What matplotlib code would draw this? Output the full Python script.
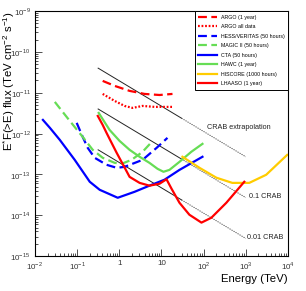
import matplotlib
matplotlib.use("Agg")
import matplotlib.pyplot as plt
import matplotlib.ticker as mticker
import numpy as np

plt.rcParams["font.family"] = ["Liberation Sans", "DejaVu Sans"]
plt.rcParams["mathtext.fontset"] = "custom"
plt.rcParams["mathtext.rm"] = "Liberation Sans"

# sensitivity curves (energy in TeV, E*F(>E) in TeV cm^-2 s^-1)
argo_1yr_e = [0.405, 0.78, 1.76, 3.98, 9.0, 18.3]
argo_1yr_f = [1.95e-11, 1.47e-11, 1.11e-11, 9.35e-12, 8.8e-12, 9.35e-12]

argo_all_e = [0.405, 0.78, 1.34, 2.07, 3.57, 6.9, 18.3]
argo_all_f = [9.35e-12, 6.3e-12, 4.75e-12, 4.25e-12, 4.75e-12, 4.5e-12, 4.5e-12]

hess_e = [0.098, 0.136, 0.179, 0.262, 0.50, 0.87, 1.34, 3.57, 7.7, 13.9]
hess_f = [1.83e-12, 8.3e-13, 4.47e-13, 2.55e-13, 1.72e-13, 1.45e-13, 1.53e-13, 2.27e-13, 4.47e-13, 7.85e-13]

magic_e = [0.0297, 0.067, 0.136, 0.235, 0.405, 0.78, 1.14, 1.96, 3.57, 6.2]
magic_f = [5.96e-12, 2.05e-12, 8.3e-13, 4.0e-13, 2.55e-13, 1.92e-13, 1.82e-13, 2.27e-13, 3.57e-13, 6.6e-13]

cta_e = [0.0155, 0.0227, 0.039, 0.088, 0.20, 0.344, 0.92, 2.31, 5.2, 11.8, 26.8, 94]
cta_f = [2.16e-12, 1.38e-12, 7.0e-13, 2.27e-13, 6.6e-14, 4.2e-14, 2.68e-14, 3.75e-14, 5.3e-14, 7.4e-14, 1.29e-13, 2.7e-13]

hawc_e = [0.326, 0.59, 1.02, 1.76, 3.04, 5.2, 8.1, 11.2, 15.5, 26.8, 51, 94]
hawc_f = [3.2e-12, 1.23e-12, 6.6e-13, 4.0e-13, 2.7e-13, 1.92e-13, 1.37e-13, 1.16e-13, 1.29e-13, 2.03e-13, 3.57e-13, 5.6e-13]

hiscore_e = [31.5, 80, 201, 480, 1210, 3050, 9570]
hiscore_f = [2.7e-13, 1.45e-13, 8.3e-14, 6.2e-14, 6.2e-14, 9.8e-14, 3.0e-13]

lhaaso_e = [0.31, 0.405, 0.50, 0.66, 0.87, 1.2, 1.76, 3.04, 5.2, 9.0, 13.2, 17.3, 26.8, 46, 89, 153, 346, 922]
lhaaso_f = [2.7e-12, 1.63e-12, 1.04e-12, 5.9e-13, 3.37e-13, 1.82e-13, 8.7e-14, 6.2e-14, 5.3e-14,
            5.9e-14, 7.6e-14, 4.5e-14, 2.02e-14, 1.03e-14, 6.6e-15, 8.7e-15, 2.02e-14, 6.6e-14]

# crab reference lines: start point, end point, where the solid part stops
crab_e = [0.316, 1000.0]
crab_f = [4.0e-11, 2.7e-13]
crab_solid_to = 30.0
crab_scales = [1.0, 0.1, 0.01]
crab_labels = ["CRAB extrapolation", "0.1 CRAB", "0.01 CRAB"]

fig = plt.figure(figsize=(3.06, 2.91), dpi=100)
ax = fig.add_axes([0.114, 0.12, 0.827, 0.842])

red, blue, green, yellow = "#ff0000", "#0000ff", "#66dd55", "#ffcc00"

# crab lines, solid up to crab_solid_to then dotted
slope = np.log10(crab_f[1] / crab_f[0]) / np.log10(crab_e[1] / crab_e[0])
for s in crab_scales:
    e_solid = np.array([crab_e[0], crab_solid_to])
    e_dot = np.array([crab_solid_to, crab_e[1]])
    ax.plot(e_solid, s * crab_f[0] * (e_solid / crab_e[0]) ** slope, color="#222222", lw=0.7)
    ax.plot(e_dot, s * crab_f[0] * (e_dot / crab_e[0]) ** slope, color="#444444", lw=0.7, ls=(0, (1.2, 1.2)))

ax.text(1.19e2, 1.38e-12, crab_labels[0], fontsize=5.2, color="#222222", va="center")
ax.text(1.2e3, 2.9e-14, crab_labels[1], fontsize=5.2, color="#222222", va="center")
ax.text(1.05e3, 2.9e-15, crab_labels[2], fontsize=5.2, color="#222222", va="center")

lw = 1.6
ax.plot(argo_1yr_e, argo_1yr_f, color=red, lw=lw, ls=(0, (4, 2)), label="ARGO (1 year)")
ax.plot(argo_all_e, argo_all_f, color=red, lw=lw, ls=(0, (0.8, 0.8)), label="ARGO all data")
ax.plot(hess_e, hess_f, color=blue, lw=lw, ls=(0, (4, 2)), label="HESS/VERITAS (50 hours)")
ax.plot(magic_e, magic_f, color=green, lw=lw, ls=(0, (4, 2)), label="MAGIC II (50 hours)")
ax.plot(cta_e, cta_f, color=blue, lw=lw, label="CTA (50 hours)")
ax.plot(hawc_e, hawc_f, color=green, lw=lw, label="HAWC (1 year)")
ax.plot(hiscore_e, hiscore_f, color=yellow, lw=lw, label="HISCORE (1000 hours)")
ax.plot(lhaaso_e, lhaaso_f, color=red, lw=lw, label="LHAASO (1 year)")

ax.set_xscale("log")
ax.set_yscale("log")
ax.set_xlim(1e-2, 1e4)
ax.set_ylim(1e-15, 1e-9)

def root_fmt(v, pos):
    p = int(round(np.log10(v)))
    if p == 0:
        return "1"
    if p == 1:
        return "10"
    return r"$10^{%d}$" % p

ax.xaxis.set_major_locator(mticker.LogLocator(base=10, numticks=20))
ax.xaxis.set_minor_locator(mticker.LogLocator(base=10, subs=np.arange(2, 10), numticks=20))
ax.yaxis.set_major_locator(mticker.LogLocator(base=10, numticks=20))
ax.yaxis.set_minor_locator(mticker.LogLocator(base=10, subs=np.arange(2, 10), numticks=20))
ax.xaxis.set_major_formatter(mticker.FuncFormatter(root_fmt))
ax.yaxis.set_major_formatter(mticker.FuncFormatter(root_fmt))
ax.xaxis.set_minor_formatter(mticker.NullFormatter())
ax.yaxis.set_minor_formatter(mticker.NullFormatter())

ax.tick_params(which="both", direction="in", top=False, right=False, width=0.6, colors="#333333")
ax.tick_params(which="major", length=5, labelsize=5.8, pad=3)
ax.tick_params(which="minor", length=2.5)
for sp in ax.spines.values():
    sp.set_linewidth(0.8)

ax.set_xlabel("Energy (TeV)", fontsize=8.2, loc="right", labelpad=1)
ax.set_ylabel(r"E$^{*}$F(>E) flux (TeV cm$^{-2}$ s$^{-1}$)", fontsize=8.2, loc="top")
ax.yaxis.set_label_coords(-0.071, 1.0)

leg = ax.legend(loc="upper right", bbox_to_anchor=(1.0, 1.0), borderaxespad=0, fontsize=3.8,
                handlelength=3.6, handletextpad=0.6, labelspacing=0.85, borderpad=0.7,
                fancybox=False, framealpha=1, edgecolor="black")
leg.get_frame().set_linewidth(0.7)

fig.savefig("out.png", dpi=100)
